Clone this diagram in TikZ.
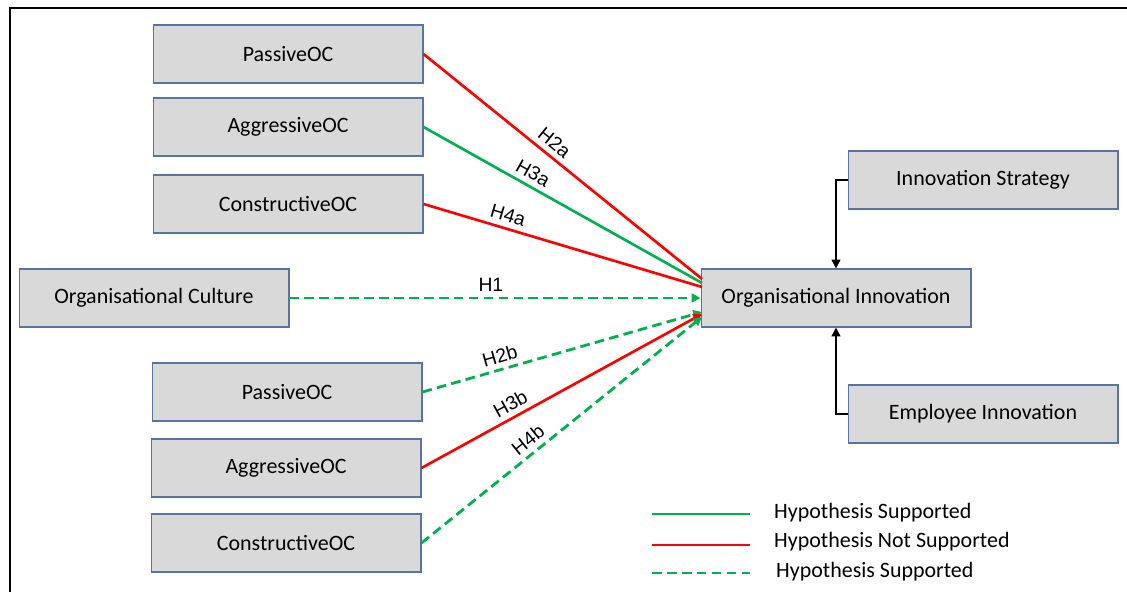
\documentclass[tikz,border=0pt]{standalone}
\usepackage{fontspec}
\setmainfont{Carlito}
\newfontfamily\arialfont{Liberation Sans}
\usetikzlibrary{arrows.meta, positioning}

\definecolor{hypgreen}{RGB}{0,176,80}
\definecolor{hypred}{RGB}{255,0,0}
\definecolor{boxfill}{RGB}{217,217,217}
\definecolor{boxline}{RGB}{90,115,165}

\begin{document}
\begin{tikzpicture}[
        x=0.02cm, y=-0.02cm,
        every node/.style={font=\fontsize{12.5}{15}\selectfont},
        box/.style={rectangle, draw=boxline, fill=boxfill, line width=0.6pt,
            minimum width=5.4cm, minimum height=1.16cm, inner sep=0pt},
        hlabel/.style={font=\arialfont\fontsize{11}{13}\selectfont, text=black,
            sloped, above, inner sep=3pt},
        supported/.style={hypgreen, line width=1.5pt},
        rejected/.style={hypred, line width=1.5pt},
        supdash/.style={hypgreen, line width=1.6pt, dash pattern=on 5.5pt off 3pt},
        tip/.style={-{Triangle[length=5pt, width=5pt]}}
    ]
        \useasboundingbox (0,0) rectangle (1127,592);
        \draw[line width=1.6pt] (10,592) -- (10,8) -- (1127,8);

        % Các khối bên trái
        \node[box] (P1) at (288,54) {PassiveOC};
        \node[box] (A1) at (288,127) {AggressiveOC};
        \node[box] (C1) at (288,204) {ConstructiveOC};
        \node[box] (OC) at (154,298) {Organisational Culture};
        \node[box] (P2) at (287,392) {PassiveOC};
        \node[box] (A2) at (286,468) {AggressiveOC};
        \node[box] (C2) at (286,543) {ConstructiveOC};

        % Các khối bên phải
        \node[box] (OI) at (836,298) {Organisational Innovation};
        \node[box] (IS) at (983,180) {Innovation Strategy};
        \node[box] (EI) at (983,414) {Employee Innovation};

        % Điểm đến trên cạnh trái của OI
        \coordinate (e2a) at (702,279);
        \coordinate (e3a) at (702,283);
        \coordinate (e4a) at (702,287);
        \coordinate (e2b) at (702,312);
        \coordinate (e3b) at (702,314);
        \coordinate (e4b) at (702,317);

        % Các giả thuyết
        \draw[rejected] (P1.east) -- node[hlabel, pos=0.44] {H2a} (e2a);
        \draw[supported] (A1.east) -- node[hlabel, pos=0.37] {H3a} (e3a);
        \draw[rejected] (C1.east) -- node[hlabel, pos=0.29] {H4a} (e4a);
        \draw[supdash, tip] (OC.east) -- node[hlabel, pos=0.49] {H1} (OI.west);
        \draw[supdash, tip] (P2.east) -- node[hlabel, pos=0.29] {H2b} (e2b);
        \draw[rejected, tip] (A2.east) -- node[hlabel, pos=0.34] {H3b} (e3b);
        \draw[supdash, tip] (C2.east) -- node[hlabel, pos=0.41] {H4b} (e4b);

        % Các liên kết điều tiết
        \draw[line width=0.8pt, tip] (IS.west) -| (OI.north);
        \draw[line width=0.8pt, tip] (EI.west) -| (OI.south);

        % Chú thích
        \node[anchor=west] (L1) at (768,513) {Hypothesis Supported};
        \node[anchor=west] (L2) at (768,542) {Hypothesis Not Supported};
        \node[anchor=west] (L3) at (770,572) {Hypothesis Supported};
        \draw[supported] (652,514) -- (750,514);
        \draw[rejected] (652,545) -- (750,545);
        \draw[supdash] (652,573) -- (750,573);
    \end{tikzpicture}
\end{document}
